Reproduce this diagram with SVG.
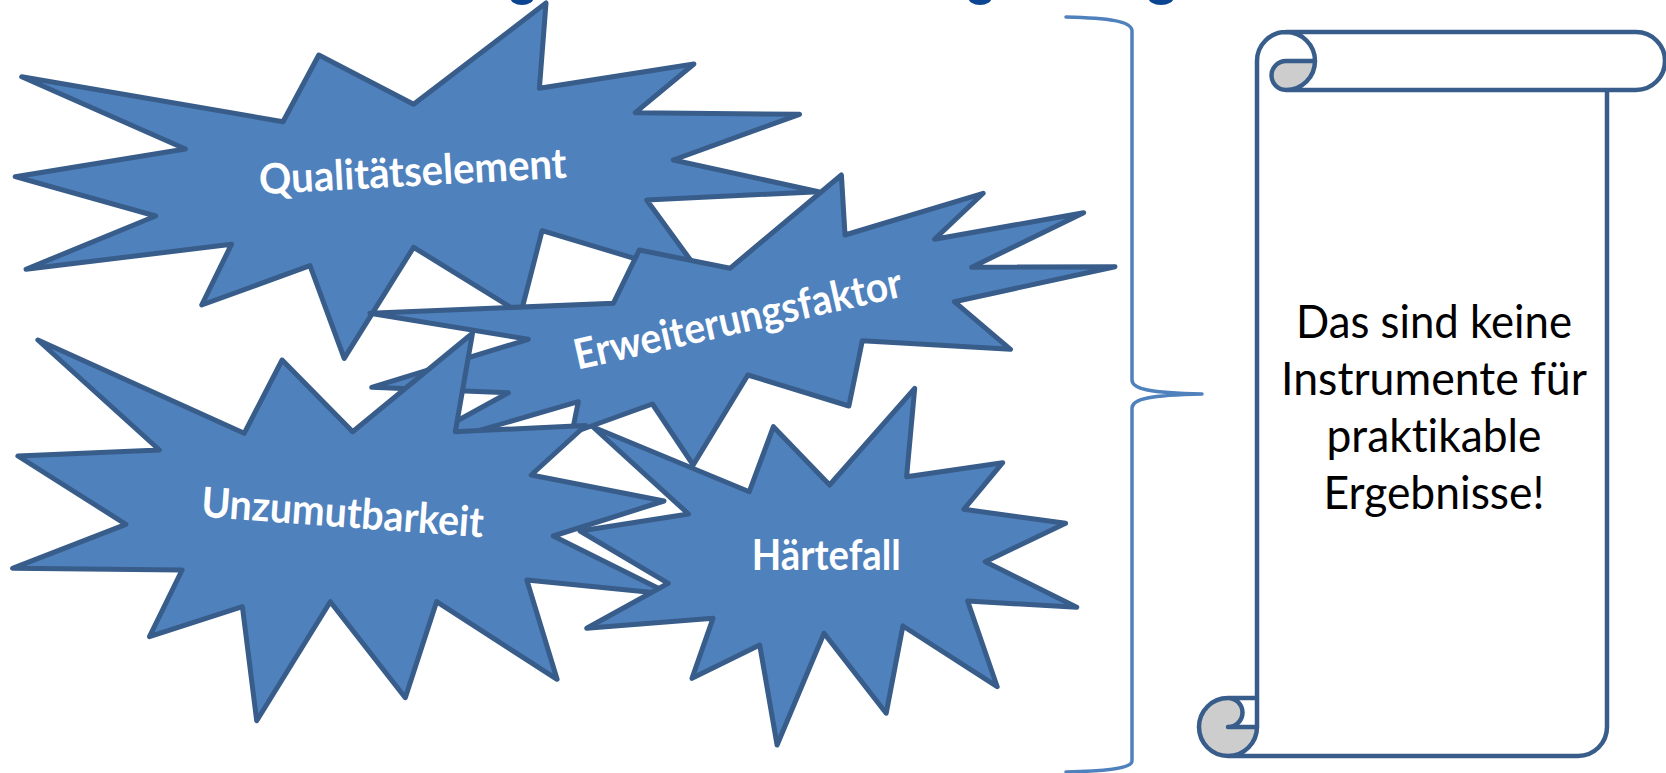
<svg xmlns="http://www.w3.org/2000/svg" width="1666" height="773" viewBox="0 0 1666 773">
  <style>
    .star { fill: #4f81bd; stroke: #385d8a; stroke-width: 5; stroke-linejoin: round; }
    .lbl { font-family: Lato, "Liberation Sans", sans-serif; font-weight: bold; font-size: 42px; fill: #ffffff; font-variant-ligatures: none; }
    .msg { font-family: Lato, "Liberation Sans", sans-serif; font-size: 46px; fill: #000000; text-anchor: middle; font-variant-ligatures: none; }
    .brace { fill: none; stroke: #4f81bd; stroke-width: 3.5; stroke-linecap: round; stroke-linejoin: round; }
    .scroll-fill { fill: #ffffff; stroke: none; }
    .scroll-dark { fill: #cdcdcd; stroke: none; }
    .scroll-line { fill: none; stroke: #385d8a; stroke-width: 4.5; stroke-linejoin: round; stroke-linecap: round; }
    .frag { fill: #0b4592; }
  </style>

  <g id="title-fragments">
    <ellipse class="frag" cx="522" cy="-3" rx="12" ry="8"/>
    <ellipse class="frag" cx="980" cy="-3" rx="12" ry="8"/>
    <ellipse class="frag" cx="1161" cy="-3" rx="13" ry="8"/>
  </g>

  <g id="node-qualitaetselement">
    <polygon class="star" points="21.7,76.7 283,121.7 318.8,55 413.6,104.3 546,3 539.4,88.3 693.9,64 635.3,112.7 799.6,114.3 673.3,160 818.6,191.7 646.7,200 704.7,279.5 542.1,230.7 520.8,313.6 413.6,247.3 344.2,358.3 310,265.7 201.7,305 231.5,244.3 26,269.3 155.6,216 15.2,176.7 185.4,149"/>
    <text class="lbl" x="413.5" y="186" text-anchor="middle" textLength="308" lengthAdjust="spacingAndGlyphs" transform="rotate(-3.1 413.5 186)">Qualitätselement</text>
  </g>

  <g id="node-erweiterungsfaktor">
    <polygon class="star" points="369.9,313.3 613.3,303.3 639.3,250 730,268.3 841.4,175 845,235 983.2,193.3 934.5,239.3 1083.7,212.7 971.7,267.3 1115,266.7 954.3,301.7 1010.5,349.3 862.3,340.7 848.9,406 747.9,375 693.2,465 652.4,404 572,433 578.3,401.7 395.4,454.7 508.3,392.7 371.7,387.3 528.3,339.3"/>
    <text class="lbl" x="741" y="333" text-anchor="middle" textLength="335" lengthAdjust="spacingAndGlyphs" transform="rotate(-12.7 741 333)">Erweiterungsfaktor</text>
  </g>

  <g id="node-unzumutbarkeit">
    <polygon class="star" points="37.9,340 244.2,433.3 282.1,360 352.7,431.7 472.5,333.3 455.3,431.7 585.5,425.5 531.2,475 664,501 553.3,536 670.3,594.3 526.8,580 557.1,679.3 436.6,601.7 405.3,697.7 330.3,601.7 256.7,720.7 242.4,606.7 149.5,636.7 182.1,570 12.5,568.3 125.9,524.3 17.9,456 159.4,450"/>
    <text class="lbl" x="341.5" y="527" text-anchor="middle" textLength="283" lengthAdjust="spacingAndGlyphs" transform="rotate(4.2 341.5 527)">Unzumutbarkeit</text>
  </g>

  <g id="node-haertefall">
    <polygon class="star" points="593,427 749.3,491.7 773.4,426.7 829.6,485 914.7,388.3 906.6,476.7 1002.7,462.7 963.9,509.3 1065.6,523.3 985.3,561.7 1076.7,607.3 967.6,601 997.2,686.7 902.9,626 886.2,713.3 824,633.3 777.1,745 759.7,645 692,678.3 713,618.3 586.7,628.3 668.3,583.3 580,531 688.5,514"/>
    <text class="lbl" x="826.3" y="570" text-anchor="middle" textLength="149" lengthAdjust="spacingAndGlyphs">Härtefall</text>
  </g>

  <g id="connectors">
    <path id="brace" class="brace" d="M1066,17 C1108,18 1132,21 1132,31 L1132,380 C1132,389 1150,393 1202,394 C1150,395 1132,399 1132,408 L1132,761 C1132,768 1108,771 1066,772"/>
  </g>

  <g id="node-scroll">
    <path class="scroll-fill" d="M1257,698 L1257,61 A29,29 0 0 1 1286,32 L1636,32 A29,29 0 0 1 1636,90 L1607,90 L1607,727 A29,29 0 0 1 1578,756 L1228,756 A29,29 0 0 1 1228,698 Z"/>
    <path class="scroll-dark" d="M1315,61 A29,29 0 0 1 1286,90 A14.5,14.5 0 0 1 1286,61 Z"/>
    <path class="scroll-dark" d="M1257,727 A29,29 0 1 1 1228,698 A14.5,14.5 0 0 1 1228,727 Z"/>
    <path class="scroll-line" d="M1257,698 L1257,61 A29,29 0 0 1 1286,32 L1636,32 A29,29 0 0 1 1636,90 L1607,90 L1607,727 A29,29 0 0 1 1578,756 L1228,756 A29,29 0 0 1 1228,698 Z M1286,32 A29,29 0 0 1 1286,90 A14.5,14.5 0 0 1 1286,61 L1315,61 M1607,90 L1286,90 M1228,698 A14.5,14.5 0 0 1 1228,727 L1257,727 M1228,756 A29,29 0 0 0 1257,727 L1257,698"/>
    <text class="msg" x="1434" y="338" textLength="276" lengthAdjust="spacingAndGlyphs">Das sind keine</text>
    <text class="msg" x="1434" y="395" textLength="306" lengthAdjust="spacingAndGlyphs">Instrumente für</text>
    <text class="msg" x="1434" y="452" textLength="215" lengthAdjust="spacingAndGlyphs">praktikable</text>
    <text class="msg" x="1434" y="509" textLength="221" lengthAdjust="spacingAndGlyphs">Ergebnisse!</text>
  </g>
</svg>
